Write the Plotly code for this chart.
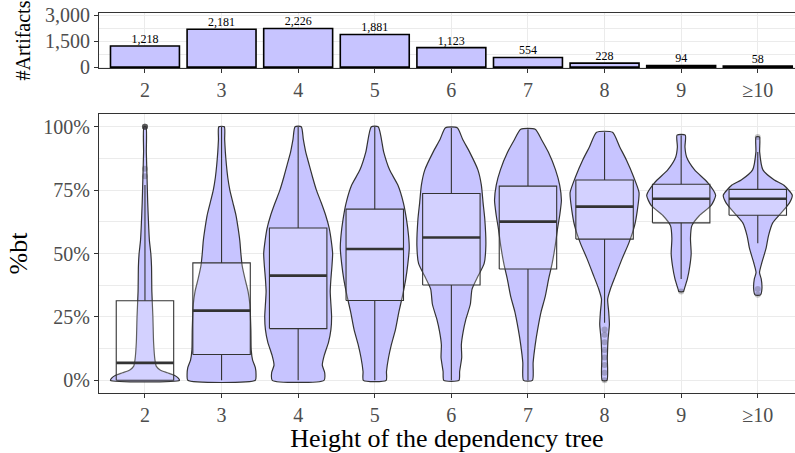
import plotly.graph_objects as go

# ---------------- data ----------------
categories = ["2", "3", "4", "5", "6", "7", "8", "9", "≥10"]
artifact_counts = [1218, 2181, 2226, 1881, 1123, 554, 228, 94, 58]

# box statistics (share of bt, 0..1)
box_q1 = [0.0, 0.102, 0.204, 0.315, 0.376, 0.439, 0.557, 0.621, 0.651]
box_median = [0.069, 0.275, 0.413, 0.518, 0.563, 0.626, 0.685, 0.716, 0.716]
box_q3 = [0.314, 0.463, 0.601, 0.675, 0.737, 0.766, 0.790, 0.773, 0.753]
whisker_low = [0.0, 0.0, 0.0, 0.0, 0.0, 0.0, 0.227, 0.40, 0.541]
whisker_high = [0.77, 1.0, 1.0, 1.0, 0.996, 0.99, 0.978, 0.967, 0.90]

# outliers (category index, value)
outlier_cat = [0, 0, 0, 0, 0, 0, 0, 6, 6, 6, 6, 6, 6, 6, 6, 7, 8, 8, 8]
outlier_val = [0.805, 0.834, 1.0, 1.0, 1.0, 1.0, 1.0,
               0.0, 0.03, 0.06, 0.09, 0.12, 0.15, 0.18, 0.20,
               0.35, 0.337, 0.36, 0.96]

# violin profiles: value levels and relative half-widths (1 = widest)
vio_y_2 = [0, 0.01, 0.02, 0.03, 0.04, 0.055, 0.08, 0.15, 0.25, 0.35, 0.45, 0.5, 0.55, 0.6, 0.7, 0.8, 0.9, 1.0]
vio_w_2 = [1.0, 0.96, 0.85, 0.65, 0.45, 0.33, 0.29, 0.25, 0.23, 0.20, 0.19, 0.17, 0.13, 0.11, 0.08, 0.06, 0.04, 0.03]
vio_y_3 = [0, 0.02, 0.05, 0.08, 0.12, 0.2, 0.3, 0.35, 0.4, 0.45, 0.5, 0.55, 0.6, 0.65, 0.7, 0.75, 0.8, 0.85, 0.9, 0.95, 1.0]
vio_w_3 = [0.98, 1.0, 0.98, 0.90, 0.86, 0.85, 0.82, 0.77, 0.68, 0.60, 0.56, 0.53, 0.48, 0.42, 0.33, 0.24, 0.18, 0.14, 0.11, 0.09, 0.08]
vio_y_4 = [0, 0.03, 0.06, 0.1, 0.15, 0.2, 0.25, 0.3, 0.35, 0.4, 0.45, 0.5, 0.55, 0.6, 0.65, 0.7, 0.75, 0.8, 0.85, 0.9, 0.95, 1.0]
vio_w_4 = [0.75, 0.77, 0.70, 0.76, 0.88, 0.95, 0.97, 0.95, 0.93, 0.95, 0.98, 1.0, 0.96, 0.90, 0.80, 0.67, 0.53, 0.42, 0.32, 0.22, 0.15, 0.09]
vio_y_5 = [0, 0.035, 0.09, 0.14, 0.2, 0.27, 0.33, 0.4, 0.46, 0.52, 0.57, 0.635, 0.7, 0.77, 0.83, 0.9, 1.0]
vio_w_5 = [0.33, 0.34, 0.40, 0.48, 0.60, 0.70, 0.80, 0.90, 0.96, 1.0, 0.98, 0.92, 0.83, 0.67, 0.43, 0.26, 0.10]
vio_y_6 = [0, 0.035, 0.09, 0.14, 0.19, 0.24, 0.3, 0.36, 0.41, 0.46, 0.53, 0.635, 0.7, 0.77, 0.83, 0.9, 0.95, 0.996]
vio_w_6 = [0.22, 0.24, 0.30, 0.29, 0.34, 0.42, 0.55, 0.60, 0.77, 0.95, 1.0, 0.97, 0.92, 0.87, 0.77, 0.53, 0.33, 0.17]
vio_y_7 = [0, 0.07, 0.14, 0.2, 0.27, 0.33, 0.4, 0.46, 0.53, 0.6, 0.65, 0.71, 0.77, 0.83, 0.9, 0.95, 0.99]
vio_w_7 = [0.13, 0.15, 0.21, 0.28, 0.38, 0.50, 0.60, 0.70, 0.79, 0.86, 0.92, 0.97, 0.92, 0.80, 0.59, 0.39, 0.21]
vio_y_8 = [0, 0.09, 0.16, 0.22, 0.27, 0.32, 0.36, 0.41, 0.48, 0.54, 0.61, 0.67, 0.74, 0.8, 0.87, 0.92, 0.978]
vio_w_8 = [0.07, 0.08, 0.10, 0.14, 0.12, 0.09, 0.17, 0.31, 0.51, 0.70, 0.87, 0.95, 1.0, 0.85, 0.63, 0.44, 0.23]
vio_y_9 = [0.35, 0.355, 0.4, 0.45, 0.5, 0.56, 0.61, 0.65, 0.69, 0.73, 0.78, 0.83, 0.88, 0.92, 0.967]
vio_w_9 = [0.07, 0.08, 0.18, 0.25, 0.29, 0.27, 0.31, 0.53, 0.87, 1.0, 0.77, 0.39, 0.16, 0.11, 0.12]
vio_y_10 = [0.337, 0.36, 0.4, 0.425, 0.465, 0.52, 0.57, 0.62, 0.66, 0.7, 0.73, 0.77, 0.79, 0.83, 0.9, 0.96]
vio_w_10 = [0.08, 0.12, 0.10, 0.05, 0.12, 0.24, 0.31, 0.43, 0.68, 0.92, 1.0, 0.75, 0.48, 0.15, 0.055, 0.05]

violin_y = [vio_y_2, vio_y_3, vio_y_4, vio_y_5, vio_y_6, vio_y_7, vio_y_8, vio_y_9, vio_y_10]
violin_w = [vio_w_2, vio_w_3, vio_w_4, vio_w_5, vio_w_6, vio_w_7, vio_w_8, vio_w_9, vio_w_10]

# ---------------- style ----------------
FONT = "Liberation Serif"
FILL = "#c7c4ff"
DARK = "#333333"
GRID = "#ebebeb"
TICKC = "#4d4d4d"
VIOLIN_HALF = 0.45
BOX_W = 0.75

pos = list(range(len(categories)))
fig = go.Figure()

# top: bar chart
fig.add_trace(go.Bar(x=pos, y=artifact_counts, width=0.9,
                     marker=dict(color=FILL, line=dict(color="black", width=1.6)),
                     xaxis="x", yaxis="y", showlegend=False, hoverinfo="skip"))
fig.add_trace(go.Scatter(x=pos, y=artifact_counts, mode="text",
                         text=[f"{c:,}" for c in artifact_counts],
                         textposition="top center",
                         textfont=dict(family=FONT, size=12, color="black"),
                         xaxis="x", yaxis="y", showlegend=False, hoverinfo="skip"))

# bottom: violins
for i, (ys, ws) in enumerate(zip(violin_y, violin_w)):
    xs = [i + w * VIOLIN_HALF for w in ws] + [i - w * VIOLIN_HALF for w in reversed(ws)]
    yy = list(ys) + list(reversed(ys))
    xs.append(xs[0]); yy.append(yy[0])
    fig.add_trace(go.Scatter(x=xs, y=yy, mode="lines", fill="toself", fillcolor=FILL,
                             line=dict(color=DARK, width=1.2, shape="spline", smoothing=0.6),
                             xaxis="x2", yaxis="y2", showlegend=False, hoverinfo="skip"))

# boxes (drawn on top of the violins)
for i in pos:
    l, r = i - BOX_W / 2, i + BOX_W / 2
    fig.add_trace(go.Scatter(x=[i, i, None, i, i],
                             y=[whisker_low[i], box_q1[i], None, box_q3[i], whisker_high[i]],
                             mode="lines", line=dict(color=DARK, width=1.1),
                             xaxis="x2", yaxis="y2", showlegend=False, hoverinfo="skip"))
    fig.add_trace(go.Scatter(x=[l, r, r, l, l],
                             y=[box_q1[i], box_q1[i], box_q3[i], box_q3[i], box_q1[i]],
                             mode="lines", fill="toself", fillcolor="rgba(255,255,255,0.22)",
                             line=dict(color=DARK, width=1.1),
                             xaxis="x2", yaxis="y2", showlegend=False, hoverinfo="skip"))
    fig.add_trace(go.Scatter(x=[l, r], y=[box_median[i], box_median[i]], mode="lines",
                             line=dict(color=DARK, width=2.6),
                             xaxis="x2", yaxis="y2", showlegend=False, hoverinfo="skip"))
# outliers
fig.add_trace(go.Scatter(x=outlier_cat, y=outlier_val, mode="markers",
                         marker=dict(color="rgba(51,51,51,0.28)", size=6),
                         xaxis="x2", yaxis="y2", showlegend=False, hoverinfo="skip"))

xr = [-0.6, 8.486]
common_x = dict(range=xr, tickmode="array", tickvals=pos, ticktext=categories,
                showgrid=True, gridcolor=GRID, gridwidth=1, zeroline=False,
                showline=True, linecolor=DARK, linewidth=1.2, mirror=True,
                ticks="outside", ticklen=4, tickcolor=DARK, automargin=False,
                tickfont=dict(family=FONT, size=20, color=TICKC))

fig.update_layout(
    width=795, height=453,
    margin=dict(l=99, r=0, t=13, b=60),
    plot_bgcolor="white", paper_bgcolor="white",
    barmode="overlay",
    font=dict(family=FONT),
    xaxis=dict(common_x, anchor="y"),
    xaxis2=dict(common_x, anchor="y2",
                title=dict(text="Height of the dependency tree",
                           font=dict(family=FONT, size=26, color="black"), standoff=4)),
    yaxis=dict(domain=[0.855, 1.0], range=[-58, 3115], automargin=False,
               tickvals=[0, 1500, 3000], ticktext=["0", "1,500", "3,000"],
               showgrid=True, gridcolor=GRID, zeroline=False,
               minor=dict(tickvals=[750, 2250], showgrid=True, gridcolor=GRID, gridwidth=0.6, ticks=""),
               showline=True, linecolor=DARK, linewidth=1.2,
               ticks="outside", ticklen=4, tickcolor=DARK,
               tickfont=dict(family=FONT, size=20, color=TICKC),
               title=dict(text="#Artifacts", font=dict(family=FONT, size=20, color="black"), standoff=8)),
    yaxis2=dict(domain=[0.0, 0.734], range=[-0.05, 1.05], automargin=False,
                tickvals=[0, 0.25, 0.5, 0.75, 1.0], ticktext=["0%", "25%", "50%", "75%", "100%"],
                showgrid=True, gridcolor=GRID, zeroline=False,
                minor=dict(tickvals=[0.125, 0.375, 0.625, 0.875], showgrid=True, gridcolor=GRID, gridwidth=0.6, ticks=""),
                showline=True, linecolor=DARK, linewidth=1.2,
                ticks="outside", ticklen=4, tickcolor=DARK,
                tickfont=dict(family=FONT, size=20, color=TICKC),
                title=dict(text="%bt", font=dict(family=FONT, size=26, color="black"), standoff=8)),
)

# remove the browser's default 8px body margin so the figure fills the window
fig.write_html("out.html", config={"displayModeBar": False},
               post_script="document.body.style.margin='0';document.body.style.overflow='hidden';")
